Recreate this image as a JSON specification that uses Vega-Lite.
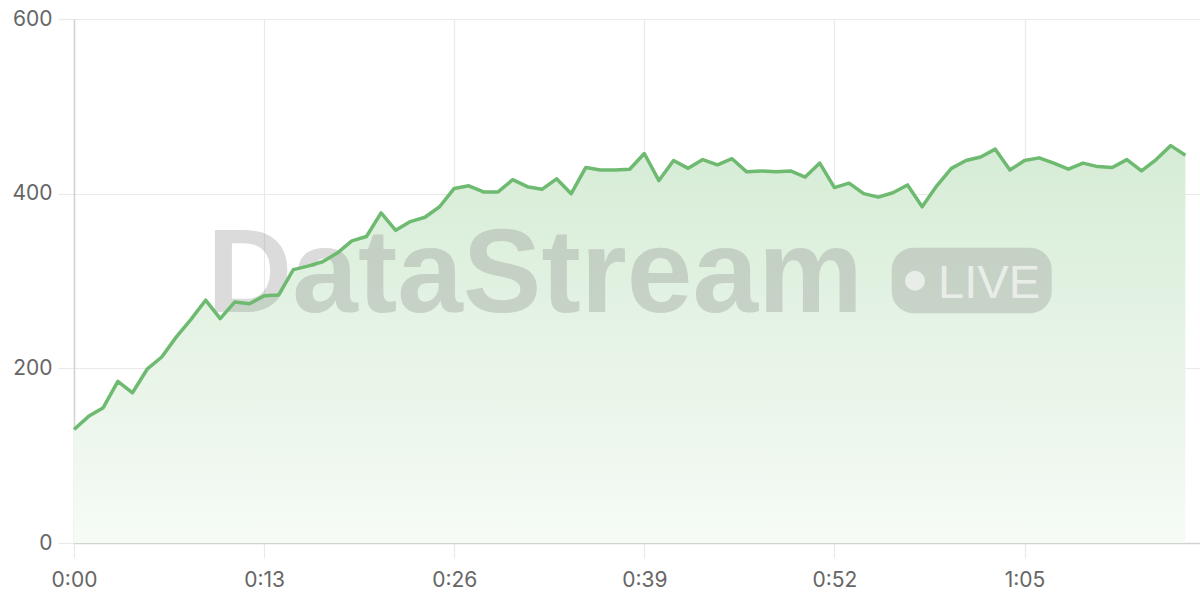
{
  "$schema": "https://vega.github.io/schema/vega-lite/v6.json",
  "width": 1126,
  "height": 524,
  "autosize": {"type": "none"},
  "padding": {"left": 74, "top": 19, "right": 0, "bottom": 57},
  "background": "white",
  "config": {
    "view": {"stroke": null},
    "font": "Inter",
    "axis": {
      "labelFont": "Inter",
      "labelFontSize": 21,
      "labelColor": "#666666",
      "labelFlush": false,
      "gridColor": "#e9e9e9",
      "gridWidth": 1.2,
      "tickColor": "#e9e9e9",
      "tickWidth": 1.2,
      "domainColor": "#d2d2d2",
      "domainWidth": 1.5
    }
  },
  "data": {
    "values": [
      {"t": 0, "value": 130}, {"t": 1, "value": 145}, {"t": 2, "value": 155}, {"t": 3, "value": 185},
      {"t": 4, "value": 172}, {"t": 5, "value": 199}, {"t": 6, "value": 213}, {"t": 7, "value": 236},
      {"t": 8, "value": 256}, {"t": 9, "value": 278}, {"t": 10, "value": 257}, {"t": 11, "value": 276},
      {"t": 12, "value": 274}, {"t": 13, "value": 283}, {"t": 14, "value": 284}, {"t": 15, "value": 313},
      {"t": 16, "value": 317}, {"t": 17, "value": 322}, {"t": 18, "value": 332}, {"t": 19, "value": 346},
      {"t": 20, "value": 351}, {"t": 21, "value": 378}, {"t": 22, "value": 358}, {"t": 23, "value": 368},
      {"t": 24, "value": 373}, {"t": 25, "value": 385}, {"t": 26, "value": 406}, {"t": 27, "value": 409},
      {"t": 28, "value": 402}, {"t": 29, "value": 402}, {"t": 30, "value": 416}, {"t": 31, "value": 408},
      {"t": 32, "value": 405}, {"t": 33, "value": 417}, {"t": 34, "value": 400}, {"t": 35, "value": 430},
      {"t": 36, "value": 427}, {"t": 37, "value": 427}, {"t": 38, "value": 428}, {"t": 39, "value": 446},
      {"t": 40, "value": 415}, {"t": 41, "value": 438}, {"t": 42, "value": 429}, {"t": 43, "value": 439},
      {"t": 44, "value": 433}, {"t": 45, "value": 440}, {"t": 46, "value": 425}, {"t": 47, "value": 426},
      {"t": 48, "value": 425}, {"t": 49, "value": 426}, {"t": 50, "value": 419}, {"t": 51, "value": 435},
      {"t": 52, "value": 407}, {"t": 53, "value": 412}, {"t": 54, "value": 400}, {"t": 55, "value": 396},
      {"t": 56, "value": 401}, {"t": 57, "value": 410}, {"t": 58, "value": 385}, {"t": 59, "value": 409},
      {"t": 60, "value": 429}, {"t": 61, "value": 438}, {"t": 62, "value": 442}, {"t": 63, "value": 451},
      {"t": 64, "value": 427}, {"t": 65, "value": 438}, {"t": 66, "value": 441}, {"t": 67, "value": 435},
      {"t": 68, "value": 428}, {"t": 69, "value": 435}, {"t": 70, "value": 431}, {"t": 71, "value": 430},
      {"t": 72, "value": 439}, {"t": 73, "value": 426}, {"t": 74, "value": 439}, {"t": 75, "value": 455},
      {"t": 76, "value": 444}
    ]
  },
  "layer": [
    {
      "mark": {
        "type": "area",
        "fill": {
          "gradient": "linear",
          "x1": 0, "y1": 0, "x2": 0, "y2": 1,
          "stops": [
            {"offset": 0, "color": "#d6ecd6"},
            {"offset": 1, "color": "#f6fbf6"}
          ]
        }
      },
      "encoding": {
        "x": {
          "field": "t",
          "type": "quantitative",
          "scale": {"domain": [0, 77], "nice": false, "zero": false},
          "axis": {
            "title": null,
            "values": [0, 13, 26, 39, 52, 65],
            "grid": true,
            "tickSize": 15,
            "labelPadding": 11,
            "labelExpr": "floor(datum.value / 60) + ':' + (datum.value % 60 < 10 ? '0' : '') + (datum.value % 60)"
          }
        },
        "y": {
          "field": "value",
          "type": "quantitative",
          "scale": {"domain": [0, 600], "nice": false},
          "axis": {
            "title": null,
            "values": [0, 200, 400, 600],
            "grid": true,
            "tickSize": 16,
            "labelPadding": 6
          }
        }
      }
    },
    {
      "data": {"values": [{"label": "DataStream"}]},
      "mark": {
        "type": "text",
        "font": "Liberation Sans",
        "fontWeight": "bold",
        "fontSize": 118,
        "align": "left",
        "baseline": "alphabetic",
        "fill": "#8a8a8a",
        "opacity": 0.3
      },
      "encoding": {
        "x": {"datum": 9.1, "type": "quantitative"},
        "y": {"datum": 264.5, "type": "quantitative"},
        "text": {"field": "label"}
      }
    },
    {
      "data": {"values": [{"label": "badge"}]},
      "mark": {"type": "rect", "cornerRadius": 22, "fill": "#8a8a8a", "opacity": 0.3},
      "encoding": {
        "x": {"datum": 55.92, "type": "quantitative"},
        "x2": {"datum": 66.86},
        "y": {"datum": 338.1, "type": "quantitative"},
        "y2": {"datum": 263.0}
      }
    },
    {
      "data": {"values": [{"label": "dot"}]},
      "mark": {"type": "point", "shape": "circle", "filled": true, "size": 400, "fill": "white", "opacity": 0.6},
      "encoding": {
        "x": {"datum": 57.51, "type": "quantitative"},
        "y": {"datum": 300.3, "type": "quantitative"}
      }
    },
    {
      "data": {"values": [{"label": "LIVE"}]},
      "mark": {
        "type": "text",
        "font": "Liberation Sans",
        "fontSize": 47,
        "align": "left",
        "baseline": "alphabetic",
        "fill": "white",
        "opacity": 0.6
      },
      "encoding": {
        "x": {"datum": 59.09, "type": "quantitative"},
        "y": {"datum": 280.2, "type": "quantitative"},
        "text": {"field": "label"}
      }
    },
    {
      "mark": {"type": "line", "color": "#6dba70", "strokeWidth": 3.5, "strokeJoin": "round"},
      "encoding": {
        "x": {"field": "t", "type": "quantitative"},
        "y": {"field": "value", "type": "quantitative"}
      }
    }
  ]
}
